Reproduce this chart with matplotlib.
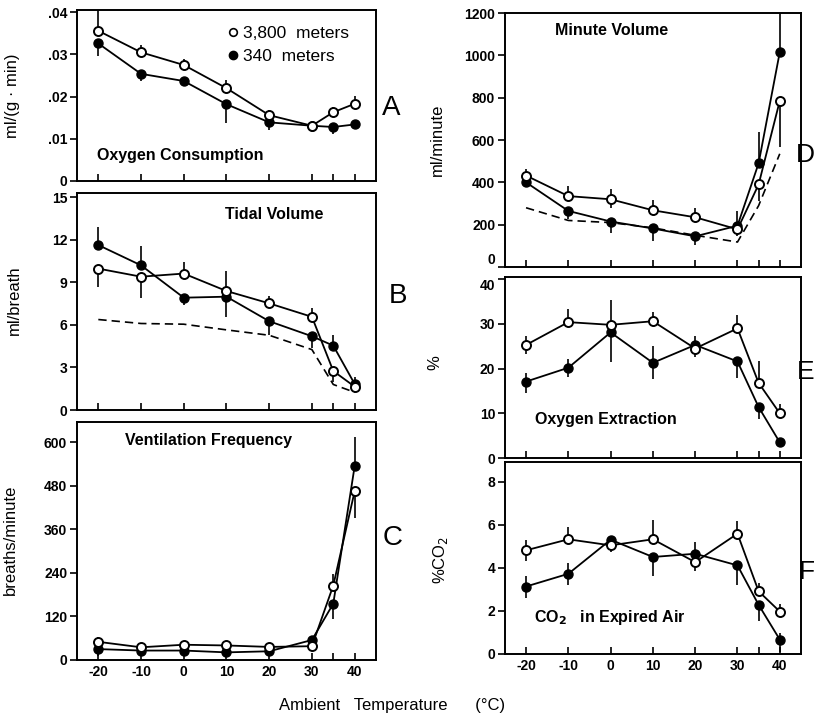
import matplotlib
matplotlib.use('Agg')
import matplotlib.pyplot as plt
from matplotlib.lines import Line2D

plt.rcParams['font.family'] = ['Liberation Sans', 'DejaVu Sans']

temps = [-20, -10, 0, 10, 20, 30, 35, 40]
xtick_pos = [-20, -10, 0, 10, 20, 30, 35, 40]
xtick_lab = ['-20', '-10', '0', '10', '20', '30', '', '40']

# A  oxygen consumption, ml/(g min)
o2_hi = [0.0356, 0.0305, 0.0275, 0.0220, 0.0156, 0.0131, 0.0163, 0.0183]
o2_lo = [0.0326, 0.0254, 0.0237, 0.0182, 0.0139, 0.0131, 0.0128, 0.0134]
o2_hi_err = [[0, 0.0008, 0.0006, 0.0006, 0.0006, 0.001, 0.0006, 0.0006],
             [0.005, 0.0018, 0.0014, 0.002, 0.0012, 0.0008, 0.0012, 0.0018]]
o2_lo_err = [[0.003, 0.0018, 0.0012, 0.0045, 0.0018, 0.001, 0.0016, 0.0006],
             [0, 0, 0, 0, 0, 0, 0, 0.0008]]

# B  tidal volume, ml/breath
tv_hi = [9.97, 9.4, 9.62, 8.39, 7.52, 6.57, 2.75, 1.65]
tv_lo = [11.63, 10.2, 7.92, 7.99, 6.26, 5.2, 4.54, 1.84]
tv_dash = [6.38, 6.1, 6.05, 5.65, 5.27, 4.26, 1.8, 1.25]
tv_hi_err = [[1.3, 1.5, 0, 0, 0, 0, 0.75, 0.3], [0, 0, 0.8, 1.4, 0.55, 0.6, 0, 0]]
tv_lo_err = [[0, 0, 0.5, 1.4, 1.0, 0.85, 0, 0], [1.25, 1.33, 0, 0, 0, 0, 0.75, 0.5]]

# C  ventilation frequency, breaths/minute
vf_hi = [50, 35, 42, 40, 36, 38, 205, 464]
vf_lo = [30, 26, 26, 21, 24, 55, 155, 533]
vf_hi_err = [[0, 0, 0, 0, 0, 10, 0, 72], [12, 6, 8, 6, 6, 0, 32, 0]]
vf_lo_err = [[18, 8, 10, 8, 8, 0, 42, 0], [0, 0, 0, 0, 0, 10, 0, 80]]

# D  minute volume, ml/minute
mv_hi = [432, 335, 320, 268, 235, 178, 390, 785]
mv_lo = [400, 265, 215, 182, 145, 195, 490, 1015]
mv_dash = [280, 220, 210, 185, 150, 118, 290, 535]
mv_hi_err = [[0, 0, 40, 0, 0, 30, 80, 220], [30, 50, 50, 50, 45, 0, 0, 0]]
mv_lo_err = [[20, 40, 55, 60, 40, 0, 0, 0], [0, 0, 0, 0, 0, 70, 150, 300]]

# E  oxygen extraction, %
ex_hi = [25.3, 30.4, 29.8, 30.6, 24.5, 29.0, 16.8, 10.0]
ex_lo = [17.1, 20.2, 28.1, 21.3, 25.3, 21.6, 11.4, 3.5]
ex_hi_err = [[2, 0, 0, 0, 2, 0, 0, 0], [2, 3, 0, 2, 0, 3, 5, 2]]
ex_lo_err = [[2.5, 2, 6.7, 3.7, 0, 3.8, 2.7, 1], [2, 2, 7.3, 3.7, 2, 0, 0, 0]]

# F  CO2 in expired air, %
co_hi = [4.81, 5.32, 5.04, 5.32, 4.26, 5.58, 2.91, 1.97]
co_lo = [3.13, 3.72, 5.30, 4.50, 4.65, 4.11, 2.28, 0.67]
co_hi_err = [[0.5, 0, 0.3, 0, 0.4, 0, 0, 0], [0.5, 0.55, 0, 0.9, 0, 0.6, 0.4, 0.35]]
co_lo_err = [[0.55, 0.5, 0.5, 0.9, 0, 0.9, 0.75, 0.6], [0.5, 0.5, 0, 0, 0.55, 0, 0, 0.3]]

fig = plt.figure(figsize=(8.17, 7.24), dpi=100)

axA = fig.add_axes([0.0942, 0.750, 0.366, 0.236])
axB = fig.add_axes([0.0942, 0.4337, 0.366, 0.2997])
axC = fig.add_axes([0.0942, 0.0884, 0.366, 0.3287])
axD = fig.add_axes([0.618, 0.6312, 0.3623, 0.3508])
axE = fig.add_axes([0.618, 0.3674, 0.3623, 0.25])
axF = fig.add_axes([0.618, 0.0967, 0.3623, 0.265])

TICKFS = 10


def panel(ax, hi, lo, hi_err, lo_err, dash=None):
    if dash is not None:
        ax.plot(temps, dash, color='black', lw=1.2, ls=(0, (5, 3)), zorder=1)
    ax.errorbar(temps, lo, yerr=lo_err, fmt='-o', color='black', lw=1.3,
                elinewidth=1.2, ms=6.5, mfc='black', mec='black', capsize=0, zorder=2)
    ax.errorbar(temps, hi, yerr=hi_err, fmt='-o', color='black', lw=1.3,
                elinewidth=1.2, ms=6.5, mfc='white', mec='black', mew=1.4, capsize=0, zorder=3)
    ax.set_xlim(-25, 45)
    ax.set_xticks(xtick_pos)
    ax.tick_params(axis='x', direction='in', length=5, width=1.2)
    ax.tick_params(axis='y', direction='out', length=5, width=1.2, pad=2)
    for s in ax.spines.values():
        s.set_linewidth(1.4)


panel(axA, o2_hi, o2_lo, o2_hi_err, o2_lo_err)
axA.set_ylim(0, 0.0405)
axA.set_yticks([0, 0.01, 0.02, 0.03, 0.04], ['0', '.01', '.02', '.03', '.04'],
               fontweight='bold', fontsize=TICKFS)
axA.set_xticklabels([])
axA.set_ylabel('ml/(g · min)', fontsize=12)
axA.yaxis.set_label_coords(-0.19, 0.5)
axA.text(0.067, 0.15, 'Oxygen Consumption', transform=axA.transAxes,
         fontsize=11.5, fontweight='bold', va='center')
handles = [Line2D([], [], ls='none', marker='o', ms=5.5, mfc='white', mec='black', mew=1.2),
           Line2D([], [], ls='none', marker='o', ms=6, mfc='black', mec='black')]
axA.legend(handles, ['3,800  meters', '340  meters'], loc='upper left',
           bbox_to_anchor=(0.44, 1.0), frameon=False, fontsize=12.5,
           handletextpad=0.1, handlelength=1.0, labelspacing=0.45)

panel(axB, tv_hi, tv_lo, tv_hi_err, tv_lo_err, dash=tv_dash)
axB.set_ylim(0, 15.3)
axB.set_yticks([0, 3, 6, 9, 12, 15])
axB.set_yticklabels(['0', '3', '6', '9', '12', '15'], fontweight='bold', fontsize=TICKFS)
axB.set_xticklabels([])
axB.set_ylabel('ml/breath', fontsize=12)
axB.yaxis.set_label_coords(-0.184, 0.507)
axB.text(0.66, 0.90, 'Tidal Volume', transform=axB.transAxes,
         fontsize=11.5, fontweight='bold', ha='center', va='center')

panel(axC, vf_hi, vf_lo, vf_hi_err, vf_lo_err)
axC.set_ylim(0, 655)
axC.set_yticks([0, 120, 240, 360, 480, 600])
axC.set_yticklabels(['0', '120', '240', '360', '480', '600'], fontweight='bold', fontsize=TICKFS)
axC.set_xticklabels(xtick_lab, fontweight='bold', fontsize=TICKFS)
axC.set_ylabel('breaths/minute', fontsize=12)
axC.yaxis.set_label_coords(-0.197, 0.504)
axC.text(0.44, 0.924, 'Ventilation Frequency', transform=axC.transAxes,
         fontsize=11.5, fontweight='bold', ha='center', va='center')

panel(axD, mv_hi, mv_lo, mv_hi_err, mv_lo_err, dash=mv_dash)
axD.set_ylim(0, 1200)
axD.set_yticks([0, 200, 400, 600, 800, 1000, 1200])
axD.set_yticklabels(['0', '200', '400', '600', '800', '1000', '1200'],
                    fontweight='bold', fontsize=TICKFS)
axD.get_yticklabels()[0].set_va('bottom')
axD.set_xticklabels([])
axD.set_ylabel('ml/minute', fontsize=12)
axD.yaxis.set_label_coords(-0.203, 0.5)
axD.text(0.36, 0.933, 'Minute Volume', transform=axD.transAxes,
         fontsize=11.5, fontweight='bold', ha='center', va='center')

panel(axE, ex_hi, ex_lo, ex_hi_err, ex_lo_err)
axE.set_ylim(0, 40.5)
axE.set_yticks([0, 10, 20, 30, 40])
axE.set_yticklabels(['0', '10', '20', '30', '40'], fontweight='bold', fontsize=TICKFS)
axE.get_yticklabels()[-1].set_va('top')
axE.set_xticklabels([])
axE.set_ylabel('%', fontsize=12)
axE.yaxis.set_label_coords(-0.21, 0.525)
axE.text(0.34, 0.21, 'Oxygen Extraction', transform=axE.transAxes,
         fontsize=11.5, fontweight='bold', ha='center', va='center')

panel(axF, co_hi, co_lo, co_hi_err, co_lo_err)
axF.set_ylim(0, 8.9)
axF.set_yticks([0, 2, 4, 6, 8])
axF.set_yticklabels(['0', '2', '4', '6', '8'], fontweight='bold', fontsize=TICKFS)
axF.set_xticklabels(xtick_lab, fontweight='bold', fontsize=TICKFS)
axF.set_ylabel('%CO$_2$', fontsize=12)
axF.yaxis.set_label_coords(-0.186, 0.49)
axF.text(0.355, 0.19, 'CO$_\\mathbf{2}$   in Expired Air', transform=axF.transAxes,
         fontsize=11.5, fontweight='bold', ha='center', va='center')

fig.text(0.4786, 0.851, 'A', fontsize=20, ha='center', va='center')
fig.text(0.487, 0.591, 'B', fontsize=20, ha='center', va='center')
fig.text(0.481, 0.257, 'C', fontsize=20, ha='center', va='center')
fig.text(0.997, 0.786, 'D', fontsize=19, ha='right', va='center')
fig.text(0.997, 0.486, 'E', fontsize=19, ha='right', va='center')
fig.text(0.997, 0.21, 'F', fontsize=19, ha='right', va='center')

fig.text(0.48, 0.026, 'Ambient   Temperature      (°C)', fontsize=12, ha='center', va='center')

fig.savefig('out.png', dpi=100)
